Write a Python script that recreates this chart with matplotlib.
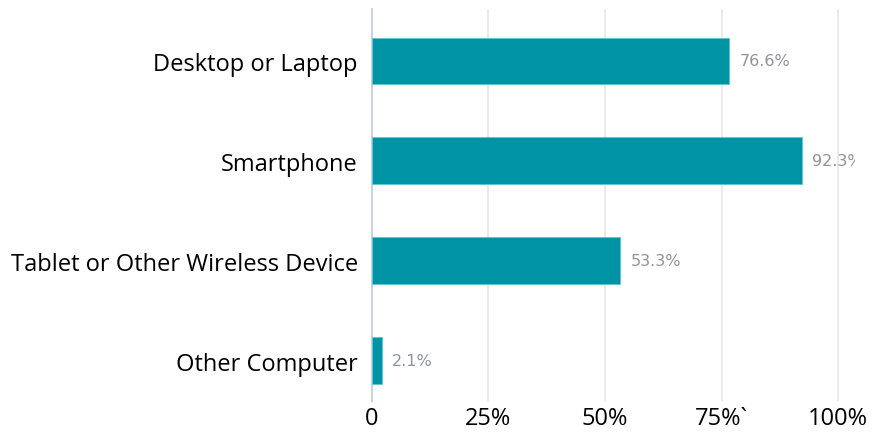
import matplotlib
matplotlib.use("Agg")
import matplotlib.pyplot as plt

devices = ["Other Computer", "Tablet or Other Wireless Device", "Smartphone", "Desktop or Laptop"]
shares = [2.1, 53.3, 92.3, 76.6]
tick_vals = [0, 25, 50, 75, 100]
tick_labels = ["0", "25%", "50%", "75%`", "100%"]

plt.rcParams['font.family'] = ['Open Sans', 'DejaVu Sans']

fig = plt.figure(figsize=(8.75, 4.35), dpi=100)
ax = fig.add_axes([0.425, 0.076, 0.552, 0.901])

ypos = list(range(len(devices)))
ax.barh(ypos, shares, height=0.47, color="#0093a5", edgecolor="#5cc6d2", linewidth=0.6, zorder=3)

# value labels run past the right edge and get cut off there
for y, v in zip(ypos, shares):
    ax.text(v + 2.2, y, f"{v}%", va="center", ha="left", fontsize=11.5,
            family="DejaVu Sans", color="#8e939c", clip_on=True, zorder=4)

ax.set_xlim(0, 103.6)
ax.set_ylim(-0.4, 3.52)
ax.set_xticks(tick_vals)
ax.set_xticklabels(tick_labels, fontsize=17)
ax.set_yticks(ypos)
ax.set_yticklabels(devices, fontsize=17)
ax.tick_params(length=0, pad=10)
ax.tick_params(axis="x", pad=4)

ax.grid(axis="x", color="#e4e6ea", linewidth=1.2, zorder=0)
for s in ["top", "right", "bottom"]:
    ax.spines[s].set_visible(False)
ax.spines["left"].set_color("#c9d1e3")
ax.spines["left"].set_linewidth(1.5)

fig.savefig("out.png", dpi=100)
